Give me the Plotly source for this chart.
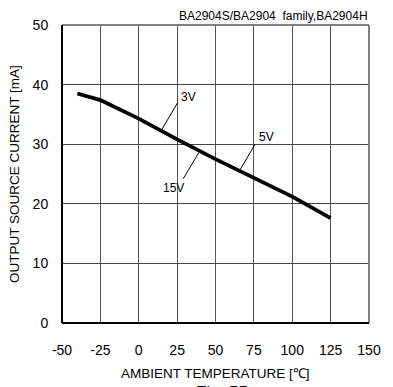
import plotly.graph_objects as go

temp = [-40, -25, 0, 25, 50, 75, 100, 125]
current = [38.5, 37.4, 34.3, 30.8, 27.5, 24.3, 21.2, 17.6]

x_ticks = [-50, -25, 0, 25, 50, 75, 100, 125, 150]
y_ticks = [0, 10, 20, 30, 40, 50]

labels = ["3V", "5V", "15V"]
label_pos = [(26.3, 37.9), (77.3, 31.2), (22.8, 22.7)]
leader_start = [(14.9, 32.4), (66.0, 25.7), (39.1, 28.6)]
leader_end = [(25.4, 37.0), (75.9, 30.05), (29.0, 24.2)]

FONT = "Liberation Sans, Arial, sans-serif"

fig = go.Figure()
fig.add_trace(go.Scatter(x=temp, y=current, mode="lines",
                         line=dict(color="black", width=3.8), showlegend=False))

for (x0, y0), (x1, y1) in zip(leader_start, leader_end):
    fig.add_shape(type="line", x0=x0, y0=y0, x1=x1, y1=y1,
                  line=dict(color="black", width=1))

for lab, (lx, ly) in zip(labels, label_pos):
    anchor = "center" if lab == "15V" else "left"
    fig.add_annotation(x=lx, y=ly, text=lab, showarrow=False, xanchor=anchor,
                       yanchor="middle", font=dict(size=12, color="black", family=FONT))

# frame: black left/bottom, gray top/right
fig.add_shape(type="line", xref="paper", yref="paper", x0=0, y0=1, x1=1, y1=1,
              line=dict(color="#808080", width=2))
fig.add_shape(type="line", xref="paper", yref="paper", x0=1, y0=0, x1=1, y1=1,
              line=dict(color="#808080", width=2))
fig.add_shape(type="line", xref="paper", yref="paper", x0=0, y0=0, x1=0, y1=1,
              line=dict(color="black", width=2))
fig.add_shape(type="line", xref="paper", yref="paper", x0=0, y0=0, x1=1, y1=0,
              line=dict(color="black", width=2))

fig.add_annotation(xref="paper", yref="paper", x=1.003, y=1.0, yshift=9,
                   text="BA2904S/BA2904\u00a0 family,BA2904H", showarrow=False,
                   xanchor="right", yanchor="middle",
                   font=dict(size=12, color="black", family=FONT))
fig.add_annotation(xref="paper", yref="paper", x=0.5, y=0, yshift=-50,
                   text="AMBIENT TEMPERATURE [℃]", showarrow=False,
                   xanchor="center", yanchor="middle",
                   font=dict(size=13.5, color="black", family=FONT))
fig.add_annotation(xref="paper", yref="paper", x=0.52, y=0, yshift=-69,
                   text="Fig. 55", showarrow=False,
                   xanchor="center", yanchor="middle",
                   font=dict(size=17, color="black", family=FONT))
fig.add_annotation(xref="paper", yref="paper", x=0, xshift=-48, y=0.5,
                   text="OUTPUT SOURCE CURRENT [mA]", showarrow=False, textangle=-90,
                   xanchor="center", yanchor="middle",
                   font=dict(size=13.5, color="black", family=FONT))

fig.update_xaxes(range=[-50, 150], tickvals=x_ticks, ticktext=[str(v) for v in x_ticks],
                 showgrid=True, gridcolor="#555555", gridwidth=1, zeroline=False,
                 showline=False, ticks="outside", ticklen=14, tickcolor="rgba(0,0,0,0)",
                 tickfont=dict(size=14, color="black", family=FONT))
fig.update_yaxes(range=[0, 50], tickvals=y_ticks, ticktext=[str(v) for v in y_ticks],
                 showgrid=True, gridcolor="#444444", gridwidth=1, zeroline=False,
                 showline=False, ticks="outside", ticklen=10, tickcolor="rgba(0,0,0,0)",
                 tickfont=dict(size=14, color="black", family=FONT))

fig.update_layout(width=393, height=387, margin=dict(l=62, r=14, t=25, b=64),
                  plot_bgcolor="white", paper_bgcolor="white", showlegend=False,
                  font=dict(family=FONT, color="black"))

fig.write_html("out.html", config={"displayModeBar": False},
               post_script="document.body.style.margin='0';document.body.style.overflow='hidden';")
